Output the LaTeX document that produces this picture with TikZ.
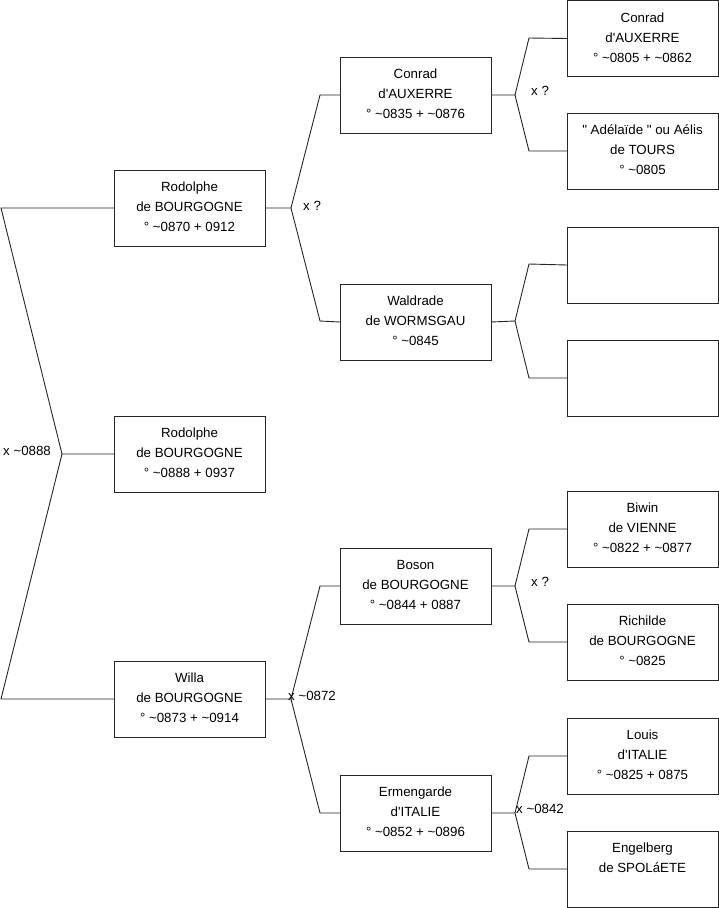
\documentclass[tikz,border=0pt]{standalone}
\usepackage{fontspec}
\setmainfont{Liberation Sans}
\newcommand{\tl}{\textasciitilde}
\newcommand{\ap}{\textquotesingle}
\newcommand{\qd}{\textquotedbl}
\begin{document}
\begin{tikzpicture}[x=1pt,y=-1pt,
  person/.style={draw=black!85, line width=0.9pt, minimum width=151pt, minimum height=76pt,
    inner sep=0pt, outer sep=0pt, align=center, anchor=north west,
    font=\fontsize{13.3}{20}\selectfont, text depth=2pt},
  link/.style={draw=black!85, line width=0.9pt},
  lbl/.style={anchor=west, inner sep=0pt, font=\fontsize{13.3}{20}\selectfont}]
\useasboundingbox (0,0) rectangle (719,908);
% generation 1
\node[person] (rs) at (114,170) {Rodolphe\\de BOURGOGNE\\° \tl0870 + 0912};
\node[person] (rj) at (114,416) {Rodolphe\\de BOURGOGNE\\° \tl0888 + 0937};
\node[person] (wi) at (114,661) {Willa\\de BOURGOGNE\\° \tl0873 + \tl0914};
% generation 2
\node[person] (co) at (340,57) {Conrad\\d\ap AUXERRE\\° \tl0835 + \tl0876};
\node[person] (wa) at (340,284) {Waldrade\\de WORMSGAU\\° \tl0845};
\node[person] (bo) at (340,548) {Boson\\de BOURGOGNE\\° \tl0844 + 0887};
\node[person] (er) at (340,775) {Ermengarde\\d\ap ITALIE\\° \tl0852 + \tl0896};
% generation 3
\node[person] (cs) at (567,0.5) {Conrad\\d\ap AUXERRE\\° \tl0805 + \tl0862};
\node[person] (ad) at (567,113) {\qd\ Adélaïde \qd\ ou Aélis\\de TOURS\\° \tl0805};
\node[person] (e1) at (567,227) {};
\node[person] (e2) at (567,340) {};
\node[person] (bi) at (567,491) {Biwin\\de VIENNE\\° \tl0822 + \tl0877};
\node[person] (ri) at (567,604) {Richilde\\de BOURGOGNE\\° \tl0825};
\node[person] (lo) at (567,718) {Louis\\d\ap ITALIE\\° \tl0825 + 0875};
\node[person] (en) at (567,831) {Engelberg\\de SPOLáETE\\\strut};
% fork coordinates
\coordinate (v0) at (62,454); \coordinate (a0) at (1,208); \coordinate (b0) at (1,699);
\coordinate (v1) at (291,208); \coordinate (a1) at (320,95); \coordinate (b1) at (320,321);
\coordinate (v2) at (291,699); \coordinate (a2) at (320,586); \coordinate (b2) at (320,813);
\coordinate (v3) at (515,95); \coordinate (a3) at (529,38); \coordinate (b3) at (529,151);
\coordinate (v4) at (515,321); \coordinate (a4) at (529,264); \coordinate (b4) at (529,378);
\coordinate (v5) at (515,586); \coordinate (a5) at (529,529); \coordinate (b5) at (529,642);
\coordinate (v6) at (515,813); \coordinate (a6) at (529,756); \coordinate (b6) at (529,869);
% connectors
\draw[link] (rj.west) -- (v0) -- (a0) -- (rs.west);
\draw[link] (v0) -- (b0) -- (wi.west);
\draw[link] (rs.east) -- (v1) -- (a1) -- (co.west);
\draw[link] (v1) -- (b1) -- (wa.west);
\draw[link] (wi.east) -- (v2) -- (a2) -- (bo.west);
\draw[link] (v2) -- (b2) -- (er.west);
\draw[link] (co.east) -- (v3) -- (a3) -- (cs.west);
\draw[link] (v3) -- (b3) -- (ad.west);
\draw[link] (wa.east) -- (v4) -- (a4) -- (e1.west);
\draw[link] (v4) -- (b4) -- (e2.west);
\draw[link] (bo.east) -- (v5) -- (a5) -- (bi.west);
\draw[link] (v5) -- (b5) -- (ri.west);
\draw[link] (er.east) -- (v6) -- (a6) -- (lo.west);
\draw[link] (v6) -- (b6) -- (en.west);
% labels
\node[lbl] (l0) at (3,451) {x \tl0888};
\node[lbl] (l1) at (303,206) {x ?};
\node[lbl] (l2) at (288,696) {x \tl0872};
\node[lbl] (l3) at (531,91) {x ?};
\node[lbl] (l5) at (531,582) {x ?};
\node[lbl] (l6) at (516,809) {x \tl0842};
\end{tikzpicture}
\end{document}
